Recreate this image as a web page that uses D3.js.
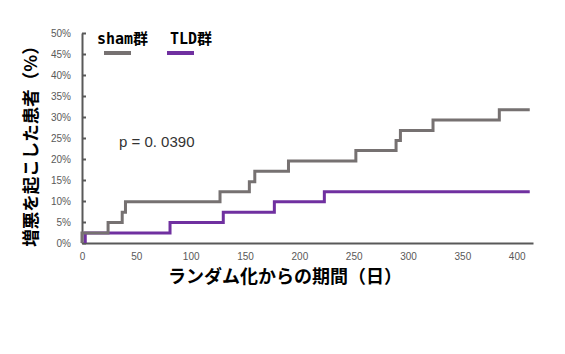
<!DOCTYPE html>
<html>
<head>
<meta charset="utf-8">
<script src="https://cdn.jsdelivr.net/npm/d3@7/dist/d3.min.js"></script>
<style>
  body { margin: 0; background: #fff; }
  svg { display: block; }
</style>
</head>
<body>
<div class="canvas"></div>
<script>
// step data (days, cumulative %)
const shamDays = [0, 24, 37, 40, 127, 154, 159, 190, 252, 289, 293, 323, 384]
const shamPct  = [2.4, 4.9, 7.3, 9.8, 12.2, 14.6, 17.1, 19.5, 22.0, 24.4, 26.8, 29.3, 31.7]
const tldDays  = [3, 81, 130, 177, 223]
const tldPct   = [2.4, 4.9, 7.3, 9.8, 12.2]
const lastDay  = 412

const xTicks = [0, 50, 100, 150, 200, 250, 300, 350, 400]
const yTicks = [0, 5, 10, 15, 20, 25, 30, 35, 40, 45, 50]

const groups = ['sham群', 'TLD群']
const colours = ['#767171', '#7030a0']

const dims = {width: 565, height: 354}
const margin = {left: 82, top: 33, right: 32, bottom: 111}

const svg = d3.select('.canvas')
    .append('svg')
    .attr('width', dims.width)
    .attr('height', dims.height)

const x = d3.scaleLinear().domain([0, 415]).range([margin.left, dims.width - margin.right])
const y = d3.scaleLinear().domain([0, 50]).range([dims.height - margin.bottom, margin.top])

// build step series: start at 0 before the first event, hold to the last day
const toSeries = (days, pct) => {
    const pts = [{d: days[0], p: 0}]
    days.forEach((d, i) => pts.push({d, p: pct[i]}))
    pts.push({d: lastDay, p: pct[pct.length - 1]})
    return pts
}
const series = [toSeries(shamDays, shamPct), toSeries(tldDays, tldPct)]

const line = d3.line()
    .x(d => x(d.d))
    .y(d => y(d.p))
    .curve(d3.curveStepAfter)

// axes
const yAxis = svg.append('g')
    .attr('transform', `translate(${margin.left}, 0)`)
    .call(d3.axisLeft(y).tickValues(yTicks).tickFormat(d => d + '%')
        .tickSizeInner(-4).tickSizeOuter(0).tickPadding(11))
yAxis.selectAll('text')
    .attr('font-family', 'Liberation Sans, Arial, sans-serif')
    .attr('font-size', 10)
    .attr('fill', '#595959')

const xAxis = svg.append('g')
    .attr('transform', `translate(0, ${y(0)})`)
    .call(d3.axisBottom(x).tickValues(xTicks).tickSize(0).tickPadding(10))
xAxis.selectAll('text')
    .attr('font-family', 'Liberation Sans, Arial, sans-serif')
    .attr('font-size', 10)
    .attr('fill', '#595959')

svg.selectAll('.domain, .tick line')
    .attr('stroke', '#595959')
    .attr('stroke-width', 2)

// lines: TLD underneath, sham on top
svg.append('path')
    .attr('d', line(series[1]))
    .attr('fill', 'none')
    .attr('stroke', colours[1])
    .attr('stroke-width', 3)
svg.append('path')
    .attr('d', line(series[0]))
    .attr('fill', 'none')
    .attr('stroke', colours[0])
    .attr('stroke-width', 3)

// legend
const legendPos = [{tx: 97, lx: 104}, {tx: 170, lx: 167}]
groups.forEach((g, i) => {
    svg.append('text')
        .attr('x', legendPos[i].tx)
        .attr('y', 44)
        .attr('font-family', 'DejaVu Sans Mono, Noto Sans CJK JP, monospace')
        .attr('font-weight', 'bold')
        .attr('font-size', 15)
        .attr('fill', '#000')
        .text(g)
    svg.append('line')
        .attr('x1', legendPos[i].lx).attr('x2', legendPos[i].lx + 27)
        .attr('y1', 53).attr('y2', 53)
        .attr('stroke', colours[i])
        .attr('stroke-width', 4)
})

// p value
svg.append('text')
    .attr('x', 119)
    .attr('y', 147)
    .attr('font-family', 'Liberation Sans, Arial, sans-serif')
    .attr('font-size', 15)
    .attr('fill', '#333')
    .text('p = 0. 0390')

// axis titles
svg.append('text')
    .attr('x', 285)
    .attr('y', 283)
    .attr('text-anchor', 'middle')
    .attr('font-family', 'Noto Sans CJK JP, sans-serif')
    .attr('font-weight', 'bold')
    .attr('font-size', 18)
    .attr('fill', '#000')
    .text('ランダム化からの期間（日）')

svg.append('text')
    .attr('transform', 'translate(37, 142) rotate(-90)')
    .attr('text-anchor', 'middle')
    .attr('font-family', 'Noto Sans CJK JP, sans-serif')
    .attr('font-weight', 'bold')
    .attr('font-size', 17.5)
    .attr('fill', '#000')
    .text('増悪を起こした患者（%）')
</script>
</body>
</html>
